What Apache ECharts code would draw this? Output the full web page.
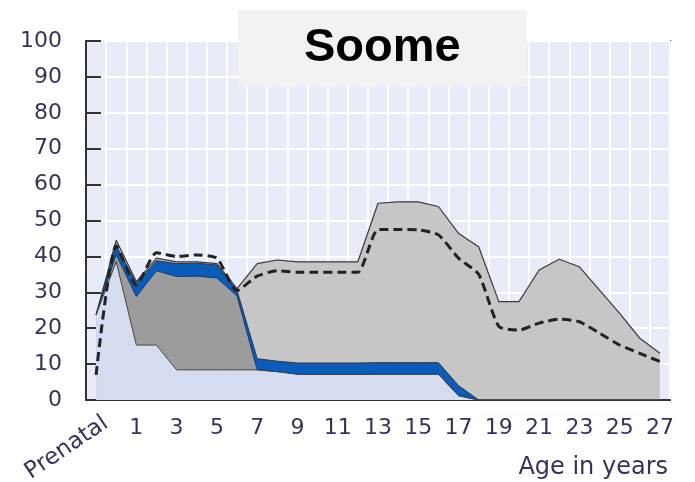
<!DOCTYPE html>
<html>
<head>
<meta charset="utf-8">
<script src="https://cdn.jsdelivr.net/npm/echarts@6/dist/echarts.min.js"></script>
<style>
  html, body { margin: 0; padding: 0; background: #fff; }
  #soome { width: 695px; height: 482px; }
</style>
</head>
<body>
<div id="soome"></div>
<script>
// categories: Prenatal, then age 0 .. 27
const ageList = ['Prenatal', '0', '1', '2', '3', '4', '5', '6', '7', '8', '9', '10', '11', '12', '13',
  '14', '15', '16', '17', '18', '19', '20', '21', '22', '23', '24', '25', '26', '27']

// outer light grey envelope
const outerData = [23.7, 44.5, 33, 39.5, 38.5, 38.5, 38, 31, 38, 39, 38.5, 38.5, 38.5, 38.5, 54.8,
  55.2, 55.2, 53.9, 46.4, 42.7, 27.4, 27.4, 36.2, 39.2, 37.1, 30.6, 24.1, 17.2, 13]
// top of the blue band
const blueTop = [23.7, 43, 32.5, 38.8, 38, 38.1, 37.6, 30.5, 11.5, 10.8, 10.3, 10.3, 10.3, 10.3, 10.4,
  10.4, 10.4, 10.4, 4, 0, 0, 0, 0, 0, 0, 0, 0, 0, 0]
// bottom of the blue band (top of the dark grey part)
const blueBottom = [23.7, 40.5, 28.8, 36, 34.4, 34.5, 34, 29, 8.4, 7.9, 7.2, 7.1, 7.1, 7.1, 7.2,
  7.2, 7.2, 7.2, 1.2, 0, 0, 0, 0, 0, 0, 0, 0, 0, 0]
// light blue bottom layer
const lightBlue = [23.7, 38.5, 15.3, 15.3, 8.4, 8.4, 8.4, 8.4, 8.4, 7.9, 7.2, 7.1, 7.1, 7.1, 7.2,
  7.2, 7.2, 7.2, 1.2, 0, 0, 0, 0, 0, 0, 0, 0, 0, 0]
// dashed line
const dashedData = [7, 43, 32, 41, 40, 40.4, 39.5, 30.5, 34.5, 36, 35.6, 35.6, 35.6, 35.6, 47.5,
  47.5, 47.4, 46, 39.5, 35, 20.5, 19.5, 21.4, 22.5, 21.8, 18.6, 15.3, 13, 10.7]

const yTicks = { min: 0, max: 100, interval: 10 }

const labelFont = {
  fontFamily: 'DejaVu Sans',
  fontSize: 22,
  color: '#34345a'
}

function areaSeries (name, data, fill, lineColor, lineWidth) {
  return {
    name: name,
    type: 'line',
    data: data,
    symbol: 'none',
    silent: true,
    lineStyle: { color: lineColor, width: lineWidth },
    areaStyle: { color: fill, opacity: 1 }
  }
}

function getOption () {
  let option = {
    animation: false,
    title: [{
      text: 'Soome',
      left: 238,
      top: 10,
      padding: [14, 66],
      backgroundColor: '#f2f2f2',
      textStyle: {
        fontFamily: 'Liberation Sans',
        fontWeight: 'bold',
        fontSize: 47,
        lineHeight: 48,
        color: '#000'
      }
    }, {
      text: 'Age in years',
      right: 27,
      top: 456,
      padding: 0,
      textStyle: {
        fontFamily: 'DejaVu Sans',
        fontWeight: 'normal',
        fontSize: 24,
        color: '#34345a'
      }
    }],
    grid: {
      left: 86,
      top: 41,
      width: 584,
      height: 359,
      outerBoundsMode: 'none',
      containLabel: false,
      show: true,
      backgroundColor: '#e8ecf8',
      borderColor: '#555',
      borderWidth: 2
    },
    xAxis: [{
      type: 'category',
      data: ageList,
      boundaryGap: true,
      position: 'bottom',
      axisLine: { lineStyle: { color: '#333', width: 2 } },
      axisTick: { inside: true, length: 10, interval: 0, lineStyle: { color: '#222', width: 2 } },
      splitLine: { show: true, interval: 0, lineStyle: { color: '#fff', width: 2 } },
      axisLabel: Object.assign({
        margin: 17,
        interval: function (index, value) {
          return index > 0 && Number(value) % 2 === 1
        }
      }, labelFont)
    }, {
      type: 'category',
      data: ageList,
      boundaryGap: true,
      position: 'bottom',
      axisLine: { show: false },
      axisTick: { show: false },
      splitLine: { show: false },
      axisLabel: Object.assign({
        margin: 28,
        rotate: 34,
        padding: [0, -12, 0, 0],
        interval: function (index) {
          return index === 0
        }
      }, labelFont, { fontSize: 23 })
    }],
    yAxis: {
      type: 'value',
      min: yTicks.min,
      max: yTicks.max,
      interval: yTicks.interval,
      axisLine: { show: true, lineStyle: { color: '#333', width: 2 } },
      axisTick: { show: true, inside: true, length: 15, lineStyle: { color: '#333', width: 2 } },
      splitLine: { show: true, lineStyle: { color: '#fff', width: 2 } },
      axisLabel: Object.assign({ margin: 24 }, labelFont)
    },
    series: [
      areaSeries('outer', outerData, '#c6c6c6', '#3a3a3a', 1.2),
      areaSeries('blue', blueTop, '#0a5cb8', '#1f3560', 1),
      areaSeries('darkgrey', blueBottom, '#9c9c9c', '#23375e', 1),
      areaSeries('lightblue', lightBlue, '#d5dcf0', '#444', 1),
      {
        name: 'dashed',
        type: 'line',
        data: dashedData,
        symbol: 'none',
        silent: true,
        smooth: 0.2,
        lineStyle: { color: '#222', width: 3, type: [9, 5] }
      }
    ]
  }
  return option
}

let chart = echarts.init(document.getElementById('soome'))
chart.setOption(getOption())
</script>
</body>
</html>
